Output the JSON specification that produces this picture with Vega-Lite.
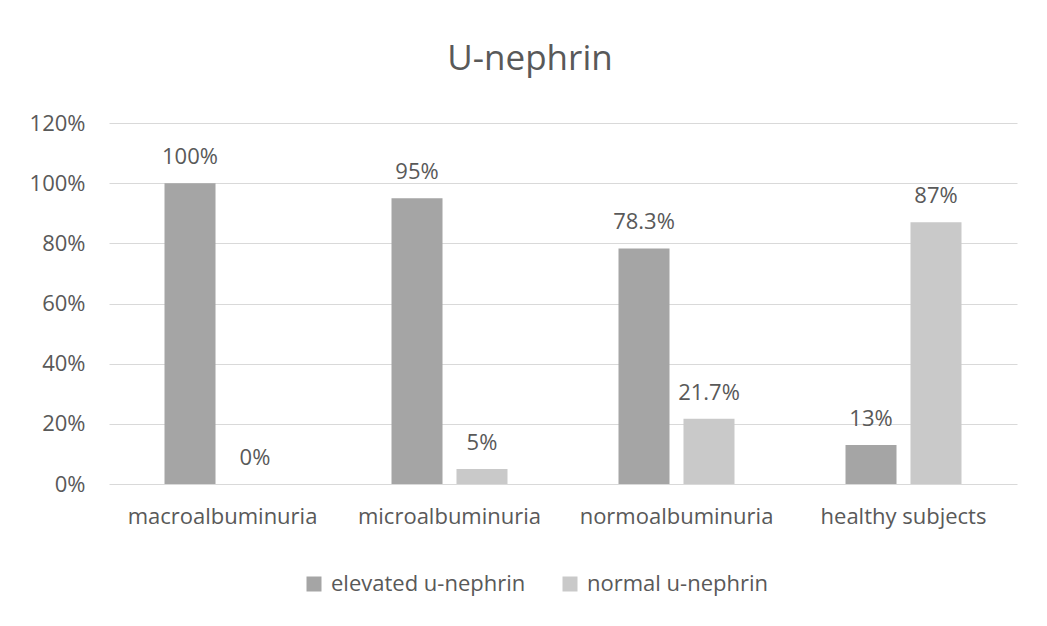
{
  "$schema": "https://vega.github.io/schema/vega-lite/v6.json",
  "autosize": "none",
  "width": 908,
  "height": 361,
  "padding": {"left": 109, "top": 123, "right": 30, "bottom": 142},
  "background": "white",
  "title": {
    "text": "U-nephrin",
    "fontSize": 35,
    "font": "Open Sans",
    "fontWeight": "normal",
    "color": "#595959",
    "anchor": "middle",
    "frame": "group",
    "dx": -33,
    "offset": 35
  },
  "data": {
    "values": [
      {"group": "macroalbuminuria", "series": "elevated u-nephrin", "value": 1.0, "label": "100%"},
      {"group": "macroalbuminuria", "series": "normal u-nephrin", "value": 0.0, "label": "0%"},
      {"group": "microalbuminuria", "series": "elevated u-nephrin", "value": 0.95, "label": "95%"},
      {"group": "microalbuminuria", "series": "normal u-nephrin", "value": 0.05, "label": "5%"},
      {"group": "normoalbuminuria", "series": "elevated u-nephrin", "value": 0.783, "label": "78.3%"},
      {"group": "normoalbuminuria", "series": "normal u-nephrin", "value": 0.217, "label": "21.7%"},
      {"group": "healthy subjects", "series": "elevated u-nephrin", "value": 0.13, "label": "13%"},
      {"group": "healthy subjects", "series": "normal u-nephrin", "value": 0.87, "label": "87%"}
    ]
  },
  "encoding": {
    "x": {
      "field": "group",
      "type": "nominal",
      "sort": null,
      "scale": {"paddingInner": 0.489, "paddingOuter": 0.2445},
      "axis": {
        "title": null,
        "labelAngle": 0,
        "domain": false,
        "ticks": false,
        "labelFont": "Open Sans",
        "labelFontSize": 22,
        "labelColor": "#595959",
        "labelPadding": 22,
        "labelLimit": 300,
        "grid": false
      }
    },
    "xOffset": {
      "field": "series",
      "type": "nominal",
      "sort": null,
      "scale": {"paddingInner": 0.215, "paddingOuter": 0}
    },
    "y": {
      "field": "value",
      "type": "quantitative",
      "scale": {"domain": [0, 1.2], "nice": false},
      "axis": {
        "title": null,
        "format": ".0%",
        "values": [0, 0.2, 0.4, 0.6, 0.8, 1.0, 1.2],
        "domain": false,
        "ticks": false,
        "labelFont": "Open Sans",
        "labelFontSize": 22,
        "labelColor": "#595959",
        "labelPadding": 24,
        "gridColor": "#d9d9d9",
        "gridWidth": 1.2
      }
    }
  },
  "layer": [
    {
      "mark": {"type": "bar"},
      "encoding": {
        "color": {
          "field": "series",
          "type": "nominal",
          "sort": null,
          "scale": {"range": ["#a5a5a5", "#c9c9c9"]},
          "legend": {
            "title": null,
            "orient": "none",
            "direction": "horizontal",
            "legendX": 194,
            "legendY": 450,
            "symbolType": "square",
            "symbolSize": 225,
            "symbolStrokeWidth": 0,
            "labelFont": "Open Sans",
            "labelFontSize": 22,
            "labelColor": "#595959",
            "labelOffset": 6,
            "labelLimit": 400,
            "columnPadding": 33
          }
        }
      }
    },
    {
      "mark": {"type": "text", "baseline": "bottom", "dy": -14, "font": "Open Sans", "fontSize": 22, "color": "#595959"},
      "encoding": {
        "text": {"field": "label"}
      }
    }
  ],
  "config": {
    "view": {"stroke": null}
  }
}
